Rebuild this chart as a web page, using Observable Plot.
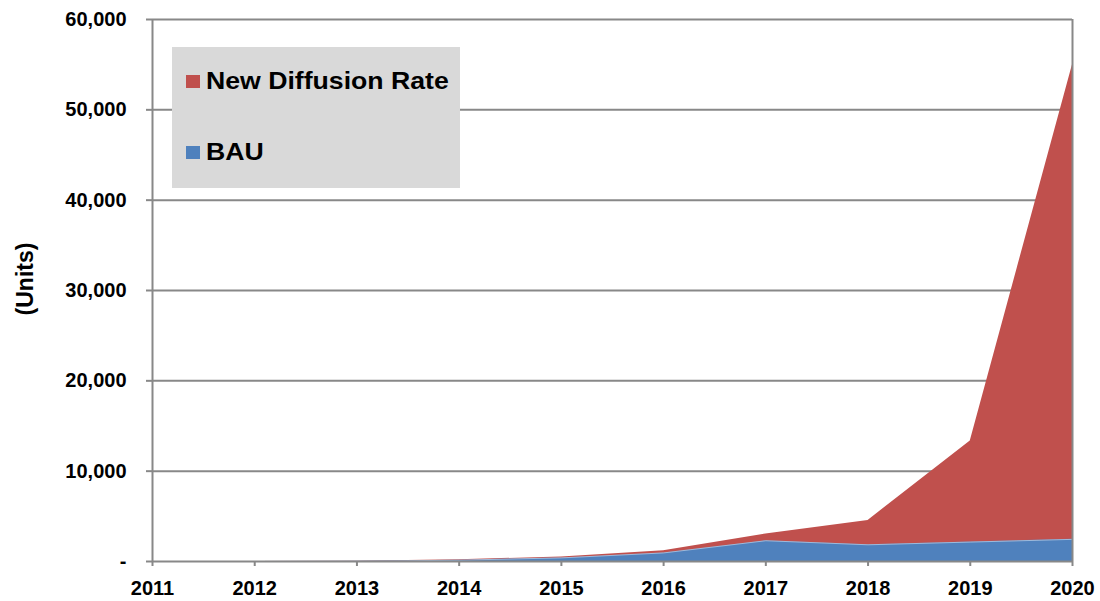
<!DOCTYPE html>
<html>
<head>
<meta charset="utf-8">
<script src="https://cdn.jsdelivr.net/npm/d3@7"></script>
<script src="https://cdn.jsdelivr.net/npm/@observablehq/plot@0.6"></script>
<style>
  html, body { margin: 0; padding: 0; background: #fff; }
  body { font-family: "Liberation Sans", Arial, sans-serif; }
  #wrap { position: relative; width: 1100px; height: 601px; overflow: hidden; }
  #ylabel {
    position: absolute; left: 25px; top: 279px;
    transform: translate(-50%, -50%) rotate(-90deg);
    font-size: 23px; font-weight: bold; color: #000; white-space: nowrap;
  }
  #legend {
    position: absolute; left: 172px; top: 47px; width: 288px; height: 141px;
    background: #d9d9d9;
  }
  .item { position: absolute; left: 14px; height: 30px; display: flex; align-items: center; }
  .sw { width: 14px; height: 13px; margin-right: 6px; }
  .lab { font-size: 24px; font-weight: bold; color: #000; white-space: nowrap;
         display: inline-block; transform: scaleX(1.11); transform-origin: left center; }
</style>
</head>
<body>
<div id="wrap">
  <div id="chart"></div>
  <div id="ylabel">(Units)</div>
  <div id="legend"></div>
</div>
<script>
// ---- data ----
const years = [2011, 2012, 2013, 2014, 2015, 2016, 2017, 2018, 2019, 2020];
const bau = [0, 5, 20, 150, 400, 950, 2300, 1850, 2150, 2450];
const newDiffusionRate = [0, 10, 40, 200, 500, 1200, 3050, 4550, 13350, 55000];
const yTicks = [0, 10000, 20000, 30000, 40000, 50000, 60000];
const seriesNames = ["New Diffusion Rate", "BAU"];
const seriesColors = ["#C0504D", "#4F81BD"];

const data = years.map((year, i) => ({ year, bau: bau[i], ndr: newDiffusionRate[i] }));

const fmt = d3.format(",");
const chart = Plot.plot({
  width: 1100,
  height: 601,
  marginLeft: 152,
  marginRight: 28,
  marginTop: 19,
  marginBottom: 40,
  style: { background: "transparent", fontFamily: '"Liberation Sans", Arial, sans-serif', color: "#000" },
  x: { domain: [2011, 2020] },
  y: { domain: [0, 60000] },
  marks: [
    Plot.ruleY(yTicks.filter(d => d > 0), { stroke: "#888", strokeWidth: 2 }),
    Plot.areaY(data, { x: "year", y: "ndr", fill: seriesColors[0] }),
    Plot.areaY(data, { x: "year", y: "bau", fill: seriesColors[1] }),
    Plot.lineY(data, { x: "year", y: "bau", stroke: "#fff", strokeOpacity: 0.45, strokeWidth: 1 }),
    Plot.ruleX([2011, 2020], { stroke: "#888", strokeWidth: 2 }),
    Plot.ruleY([0], { stroke: "#888", strokeWidth: 2 }),
    Plot.axisY(yTicks, {
      tickSize: 6, tickPadding: 20, stroke: "#888", strokeWidth: 2, fill: "#000",
      fontSize: 20, fontWeight: "bold", label: null,
      tickFormat: d => d === 0 ? "-" : fmt(d)
    }),
    Plot.axisX(years, {
      tickSize: 5, tickPadding: 14, stroke: "#888", strokeWidth: 2, fill: "#000",
      fontSize: 20, fontWeight: "bold", label: null,
      tickFormat: d => String(d)
    })
  ]
});
document.getElementById("chart").appendChild(chart);

// legend
const legend = document.getElementById("legend");
const tops = [19, 90];
seriesNames.forEach((name, i) => {
  const it = document.createElement("div");
  it.className = "item";
  it.style.top = tops[i] + "px";
  const sw = document.createElement("div");
  sw.className = "sw";
  sw.style.background = seriesColors[i];
  const lab = document.createElement("span");
  lab.className = "lab";
  lab.textContent = name;
  it.appendChild(sw);
  it.appendChild(lab);
  legend.appendChild(it);
});
</script>
</body>
</html>
